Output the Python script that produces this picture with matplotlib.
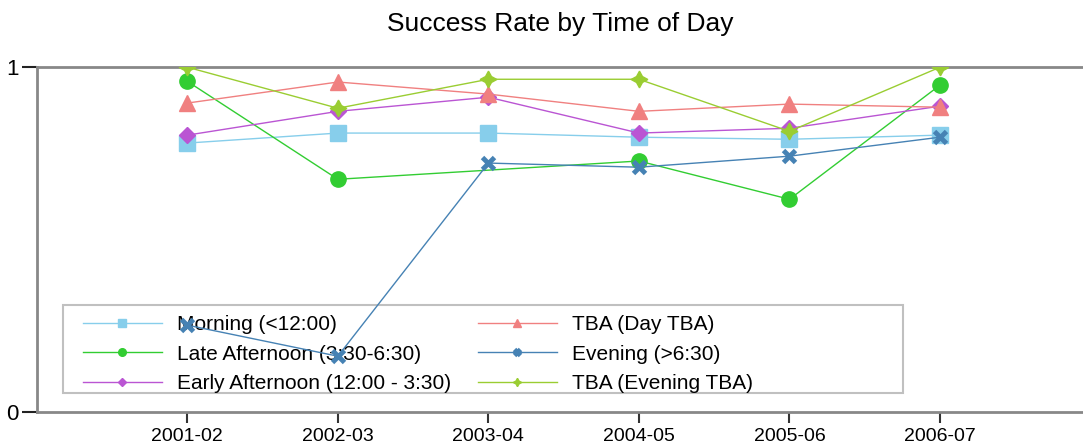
import numpy as np
import matplotlib.pyplot as plt
from matplotlib.patches import Rectangle

plt.rcParams['font.family'] = ['Liberation Sans', 'DejaVu Sans']

seasons = ['2001-02', '2002-03', '2003-04', '2004-05', '2005-06', '2006-07']

morning = [0.780, 0.809, 0.809, 0.797, 0.791, 0.803]
late_afternoon = [0.959, 0.675, np.nan, 0.728, 0.617, 0.948]
early_afternoon = [0.803, 0.872, 0.913, 0.809, 0.823, 0.887]
tba_day = [0.896, 0.957, 0.922, 0.872, 0.893, 0.884]
evening = [0.252, 0.162, 0.722, 0.710, 0.742, 0.797]
tba_evening = [1.0, 0.881, 0.965, 0.965, 0.814, 1.0]

series = [
    ('Morning (<12:00)', morning, '#87CEEB', 's'),
    ('Late Afternoon (3:30-6:30)', late_afternoon, '#32CD32', 'o'),
    ('Early Afternoon (12:00 - 3:30)', early_afternoon, '#BA55D3', 'D'),
    ('TBA (Day TBA)', tba_day, '#F08080', '^'),
    ('Evening (>6:30)', evening, '#4682B4', 'x'),
    ('TBA (Evening TBA)', tba_evening, '#9ACD32', (4, 1, 0)),
]

fig = plt.figure(figsize=(10.83, 4.45), dpi=100)
ax = fig.add_axes([0.034, 0.074, 0.966, 0.775])

x = np.arange(len(seasons))
for name, vals, col, mk in series:
    v = np.array(vals, dtype=float)
    ok = ~np.isnan(v)
    kw = dict(markersize=11, markeredgecolor=col, markerfacecolor=col)
    if mk == 'x':
        kw.update(markeredgewidth=3.5, markersize=9)
    if mk == 'D':
        kw.update(markersize=8)
    if mk == (4, 1, 0):
        kw.update(markersize=12)
    ax.plot(x[ok], v[ok], color=col, lw=1, marker=mk, label=name, zorder=6, **kw)

ax.set_xlim(-1, 5.95)
ax.set_ylim(0, 1)
ax.set_xticks(x)
ax.set_xticklabels(seasons)
ax.set_yticks([0, 1])
ax.set_yticklabels(['0', '1'])
ax.tick_params(axis='x', labelsize=14, length=8, width=1.5, color='#333333')
ax.tick_params(axis='y', labelsize=16, length=11, width=1.5, color='#222222', pad=2)
for s in ['left', 'bottom', 'top']:
    ax.spines[s].set_color('#888888')
    ax.spines[s].set_linewidth(2)
ax.spines['right'].set_visible(False)

ax.set_title('Success Rate by Time of Day', fontsize=19, pad=26)

# legend box drawn by hand, it is wider than the entries
box = Rectangle((26 / 1046, 19 / 345), 840 / 1046, 88 / 345, transform=ax.transAxes,
                facecolor='white', edgecolor='#c0c0c0', lw=1.5, zorder=2)
ax.add_patch(box)

leg = ax.legend(ncol=2, loc='upper left', bbox_to_anchor=(46 / 1046, 97 / 345),
                fontsize=15, markerscale=0.5, handlelength=3.8,
                handletextpad=0.7, columnspacing=1.3, labelspacing=0.5,
                frameon=False, borderpad=0, borderaxespad=0)
leg.set_zorder(3)

fig.savefig('out.png', dpi=100)
